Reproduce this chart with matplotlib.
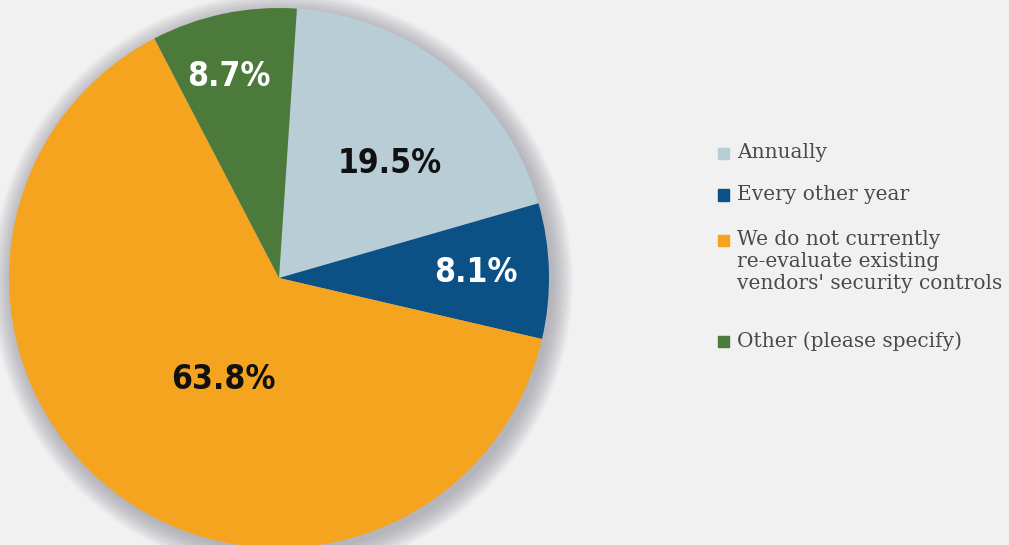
import numpy as np
import matplotlib.pyplot as plt
from matplotlib.patches import Circle, Rectangle

# survey answers: how often existing vendors' security controls are re-evaluated
labels = ["Annually", "Every other year",
          "We do not currently\nre-evaluate existing\nvendors' security controls",
          "Other (please specify)"]
shares = [19.5, 8.1, 63.8, 8.7]
pct_text = ["19.5%", "8.1%", "63.8%", "8.7%"]
colors = ["#b9cdd6", "#0b5185", "#f4a41f", "#4b7a3a"]
text_colors = ["#111111", "#ffffff", "#111111", "#ffffff"]

# where each label sits inside its wedge (radius fraction, angle shift in deg)
label_r = [0.59, 0.73, 0.43, 0.77]
label_shift = [-5, 0, 9, 2]

bg = "#f2f1f1"
fig = plt.figure(figsize=(10.09, 5.45), dpi=100, facecolor=bg)
ax = fig.add_axes([9 / 1009, -3 / 545, 540 / 1009, 540 / 545])
ax.set_facecolor(bg)

# soft drop shadow behind the pie
for i in range(20):
    r = 1.0 + 0.004 * i
    ax.add_patch(Circle((0.012, -0.018), r, color="#8f8f9c",
                        alpha=0.04, lw=0, zorder=0, clip_on=False))

wedges, _ = ax.pie(shares, colors=colors, startangle=86.2, counterclock=False,
                   radius=1.0, wedgeprops=dict(linewidth=0))
for w in wedges:
    w.set_zorder(2)
    w.set_clip_on(False)

for w, txt, tc, rf, sh in zip(wedges, pct_text, text_colors, label_r, label_shift):
    mid = np.deg2rad((w.theta1 + w.theta2) / 2 + sh)
    ax.text(rf * np.cos(mid), rf * np.sin(mid), txt, ha="center", va="center",
            fontsize=24, fontweight="bold", fontstretch="condensed",
            family=["DejaVu Sans"], color=tc, zorder=3)

ax.set_xlim(-1, 1)
ax.set_ylim(-1, 1)
ax.set_aspect("equal")
ax.axis("off")

# legend drawn by hand so the square lines up with the first text line
rows_y = [153, 195, 240, 341]
for lab, col, y in zip(labels, colors, rows_y):
    fig.patches.append(Rectangle(((723 - 5.5) / 1009, (545 - y - 5.5) / 545),
                                 11 / 1009, 11 / 545, color=col,
                                 transform=fig.transFigure, figure=fig))
    fig.text(737 / 1009, (545 - y + 10) / 545, lab, ha="left", va="top",
             fontsize=14.5, family="DejaVu Serif", color="#4a4a4a",
             linespacing=1.2)

fig.savefig("out.png", dpi=100, facecolor=bg)
